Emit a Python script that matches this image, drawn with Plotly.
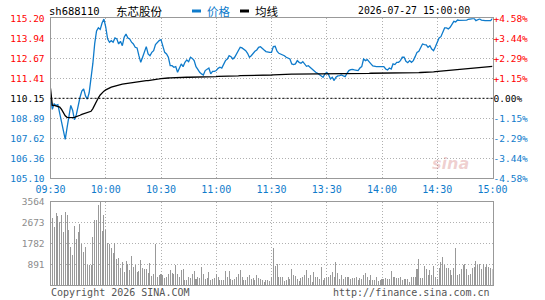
import plotly.graph_objects as go

# ---------------- DATA ----------------
SYMBOL = "sh688110"
NAME = "东芯股份"
DATE_TEXT = "2026-07-27 15:00:00"
PREV_CLOSE = 110.15

TIME_LABELS = ["09:30", "10:00", "10:30", "11:00", "11:30", "13:30", "14:00", "14:30", "15:00"]
PRICE_TICK_LABELS = ["105.10", "106.36", "107.62", "108.89", "110.15", "111.41", "112.67", "113.94", "115.20"]
PCT_TICK_LABELS = ["-4.58%", "-3.44%", "-2.29%", "-1.15%", "0.00%", "+1.15%", "+2.29%", "+3.44%", "+4.58%"]
VOL_TICK_LABELS = ["891", "1782", "2673", "3564"]

PRICE = [
    110.25, 109.45, 109.80, 109.70, 109.75, 109.20, 108.60, 108.10, 107.56, 108.30,
    108.90, 109.70, 109.40, 108.80, 109.10, 109.70, 110.20, 110.60, 110.75, 110.30,
    110.10, 110.50, 111.40, 112.35, 113.60, 114.40, 114.60, 114.50, 114.90, 115.15,
    114.65, 113.90, 113.69, 113.79, 113.69, 113.96, 113.90, 113.58, 113.75, 113.47,
    114.00, 114.21, 113.96, 113.90, 113.69, 113.58, 113.37, 113.33, 112.84, 112.42,
    112.74, 113.12, 113.41, 112.95, 112.84, 113.05, 113.16, 113.54, 113.69, 113.79,
    113.85, 113.37, 113.05, 112.95, 112.74, 112.21, 112.21, 112.11, 112.15, 111.79,
    112.06, 112.32, 112.15, 112.42, 112.57, 112.46, 112.74, 112.67, 112.53, 112.15,
    111.98, 111.79, 111.69, 111.62, 111.90, 111.98, 112.06, 111.69, 111.85, 111.85,
    111.90, 112.04, 112.11, 112.06, 112.36, 112.53, 112.63, 112.84, 112.78, 112.63,
    112.74, 112.95, 113.20, 113.37, 113.33, 113.24, 113.16, 112.99, 112.74, 112.84,
    112.99, 113.12, 113.20, 113.37, 113.41, 113.28, 113.20, 113.10, 113.05, 113.05,
    113.05, 113.41, 113.43, 113.12, 112.99, 112.95, 112.91, 112.84, 112.74, 112.67,
    112.63, 112.32, 112.28, 112.32, 112.53, 112.42, 112.36, 112.46, 112.28, 112.17,
    112.21, 112.11, 112.00, 111.85, 111.79, 111.73, 111.64, 111.58, 111.48, 111.69,
    111.79, 111.64, 111.37, 111.48, 111.27, 111.48, 111.56, 111.58, 111.62, 111.56,
    111.52, 111.73, 111.90, 111.96, 111.98, 111.94, 111.90, 111.90, 112.06, 112.15,
    112.63, 112.53, 112.59, 112.42, 112.32, 112.19, 112.15, 112.15, 112.15, 112.15,
    112.11, 112.15, 112.00, 111.94, 112.06, 112.00, 112.32, 112.28, 112.42, 112.42,
    112.53, 112.74, 112.74, 112.49, 112.40, 112.53, 112.42, 112.53, 112.78, 113.05,
    113.12, 113.37, 113.58, 113.54, 113.52, 113.37, 113.47, 113.26, 113.16, 113.41,
    113.69, 113.96, 114.04, 114.32, 114.59, 114.59, 114.53, 114.63, 114.84, 115.01,
    114.97, 115.09, 115.07, 115.07, 115.05, 115.09, 115.09, 115.14, 115.16, 115.16,
    115.20, 115.05, 115.09, 115.16, 115.09, 115.05, 115.05, 115.05, 115.05, 115.05, 115.20,
]

AVG = [
    110.78, 109.70, 109.70, 109.68, 109.66, 109.60, 109.45, 109.25, 109.05, 108.95,
    108.93, 108.93, 108.93, 108.95, 108.98, 109.03, 109.08, 109.13, 109.17, 109.20,
    109.22, 109.25, 109.33, 109.50, 109.75, 109.98, 110.18, 110.36, 110.50, 110.60,
    110.68, 110.75, 110.80, 110.85, 110.89, 110.93, 110.96, 110.99, 111.02, 111.04,
    111.06, 111.08, 111.10, 111.12, 111.14, 111.16, 111.18, 111.19, 111.20, 111.21,
    111.23, 111.24, 111.26, 111.27, 111.28, 111.30, 111.31, 111.33, 111.35, 111.37,
    111.39, 111.41, 111.42, 111.43, 111.43, 111.44, 111.45, 111.46, 111.47, 111.47,
    111.48, 111.48, 111.48, 111.48, 111.48, 111.48, 111.48, 111.48, 111.48, 111.48,
    111.48, 111.48, 111.48, 111.48, 111.48, 111.48, 111.49, 111.50, 111.51, 111.52,
    111.52, 111.53, 111.53, 111.53, 111.54, 111.54, 111.54, 111.54, 111.54, 111.55,
    111.55, 111.56, 111.57, 111.58, 111.58, 111.59, 111.59, 111.60, 111.61, 111.61,
    111.62, 111.62, 111.62, 111.62, 111.62, 111.62, 111.62, 111.62, 111.62, 111.62,
    111.62, 111.63, 111.64, 111.65, 111.66, 111.67, 111.67, 111.67, 111.67, 111.67,
    111.67, 111.68, 111.68, 111.68, 111.69, 111.69, 111.70, 111.70, 111.71, 111.71,
    111.72, 111.72, 111.72, 111.72, 111.72, 111.72, 111.72, 111.72, 111.71, 111.71,
    111.71, 111.70, 111.70, 111.69, 111.69, 111.68, 111.68, 111.68, 111.68, 111.68,
    111.68, 111.68, 111.68, 111.68, 111.68, 111.68, 111.68, 111.69, 111.70, 111.70,
    111.71, 111.72, 111.72, 111.72, 111.73, 111.73, 111.73, 111.73, 111.73, 111.73,
    111.73, 111.73, 111.73, 111.73, 111.73, 111.73, 111.73, 111.73, 111.73, 111.73,
    111.74, 111.74, 111.74, 111.74, 111.74, 111.74, 111.74, 111.74, 111.75, 111.76,
    111.77, 111.78, 111.78, 111.79, 111.79, 111.80, 111.80, 111.81, 111.82, 111.83,
    111.84, 111.85, 111.86, 111.87, 111.88, 111.89, 111.90, 111.91, 111.92, 111.94,
    111.95, 111.96, 111.98, 111.99, 112.00, 112.01, 112.02, 112.03, 112.04, 112.05,
    112.06, 112.07, 112.08, 112.09, 112.10, 112.11, 112.12, 112.13, 112.14, 112.15, 112.17,
]

VOLUME = [
    1550, 2870, 2480, 3080, 2940, 2700, 3010, 2290, 3140, 3010,
    2340, 1630, 1300, 2530, 1960, 2270, 2610, 1780, 1400, 1640,
    880, 880, 880, 2080, 2770, 2780, 3420, 3560, 2300, 3010,
    2360, 1810, 1760, 1570, 1360, 1790, 1130, 1170, 740, 1000,
    570, 1040, 900, 650, 1230, 770, 880, 560, 630, 1080,
    720, 680, 680, 530, 950, 400, 500, 1760, 370, 450,
    500, 430, 310, 360, 480, 660, 510, 470, 880, 470,
    370, 650, 710, 240, 240, 350, 300, 500, 600, 270,
    370, 310, 760, 500, 270, 330, 580, 220, 280, 330,
    500, 350, 230, 220, 240, 610, 360, 610, 250, 220,
    280, 350, 470, 640, 370, 220, 230, 350, 460, 260,
    300, 230, 460, 300, 260, 240, 140, 220, 230, 190,
    370, 1576, 820, 890, 370, 340, 370, 200, 230, 370,
    280, 700, 440, 400, 280, 200, 330, 370, 440, 650,
    300, 450, 160, 580, 370, 370, 260, 770, 230, 300,
    370, 370, 440, 580, 370, 990, 510, 270, 440, 280,
    340, 370, 340, 270, 330, 300, 370, 230, 330, 270,
    440, 540, 370, 230, 440, 230, 230, 370, 200, 230,
    260, 270, 310, 270, 260, 620, 340, 340, 310, 330,
    370, 230, 280, 260, 260, 160, 370, 370, 370, 680,
    1120, 330, 300, 820, 680, 440, 650, 440, 820, 340,
    260, 720, 1010, 1190, 870, 720, 740, 650, 440, 720,
    1590, 440, 470, 700, 880, 890, 680, 440, 480, 720,
    800, 1040, 850, 890, 710, 900, 780, 890, 770, 720, 710,
]

# ---------------- STYLE ----------------
W, H = 545, 300
BLUE = "#0f7bcb"
RED = "#ff0000"
GRID = "#b0b0b0"
FRAME = "#999999"
CLEAR = "rgba(0,0,0,0)"
MONO = "DejaVu Sans Mono"
CJK = "Noto Sans CJK SC"


def px(x):
    return x / W


def py(y):
    return 1 - y / H


minutes = list(range(len(PRICE)))
n_int = len(TIME_LABELS) - 1
x_tickvals = [i * 240 / n_int for i in range(len(TIME_LABELS))]

span = max(max(PRICE) - PREV_CLOSE, PREV_CLOSE - min(PRICE))
n_half = (len(PRICE_TICK_LABELS) - 1) // 2
price_tickvals = [PREV_CLOSE + span * (k - n_half) / n_half for k in range(len(PRICE_TICK_LABELS))]
pct_span = span / PREV_CLOSE * 100
pct_tickvals = [pct_span * (k - n_half) / n_half for k in range(len(PCT_TICK_LABELS))]
pct_series = [(p - PREV_CLOSE) / PREV_CLOSE * 100 for p in PRICE]


def col(k):
    return RED if k > n_half else ("#000000" if k == n_half else BLUE)


price_ticktext = [f'<span style="color:{col(k)}">{t}</span>' for k, t in enumerate(PRICE_TICK_LABELS)]
pct_ticktext = [f'<span style="color:{col(k)}">{t}</span>' for k, t in enumerate(PCT_TICK_LABELS)]

vol_tickvals = [float(v) for v in VOL_TICK_LABELS]
vol_top = vol_tickvals[-1]

fig = go.Figure()
fig.add_trace(go.Scatter(x=minutes, y=PRICE, mode="lines", line=dict(color=BLUE, width=1.3),
                         xaxis="x", yaxis="y", showlegend=False, hoverinfo="skip"))
fig.add_trace(go.Scatter(x=minutes, y=AVG, mode="lines", line=dict(color="#000000", width=1.3),
                         xaxis="x", yaxis="y", showlegend=False, hoverinfo="skip"))
fig.add_trace(go.Scatter(x=minutes, y=pct_series, mode="lines", line=dict(color=CLEAR, width=0),
                         xaxis="x", yaxis="y2", showlegend=False, hoverinfo="skip"))
fig.add_trace(go.Bar(x=minutes, y=VOLUME, width=0.55, marker=dict(color="#999999", line=dict(width=0)),
                     xaxis="x2", yaxis="y3", showlegend=False, hoverinfo="skip"))

x_dom = [px(50.5), px(492.5)]
price_dom = [py(178.3), py(18.3)]
vol_dom = [py(285.3), py(201.7)]

common_x = dict(range=[0, 240], tickvals=x_tickvals, showgrid=True, gridcolor=GRID, griddash="1px,2px",
                gridwidth=1, showline=True, mirror=True, linecolor=FRAME, linewidth=1, zeroline=False,
                ticks="outside", ticklen=2, tickcolor=CLEAR, fixedrange=True, automargin=False)

fig.update_layout(
    width=W, height=H, margin=dict(l=0, r=0, t=0, b=0, autoexpand=False),
    paper_bgcolor="white", plot_bgcolor="white",
    font=dict(family=MONO, size=10, color="#000000"),
    bargap=0,
    xaxis=dict(domain=x_dom, anchor="y", ticktext=TIME_LABELS,
               tickfont=dict(family=MONO, size=10, color=BLUE), **common_x),
    yaxis=dict(domain=price_dom, anchor="x", range=[price_tickvals[0], price_tickvals[-1]],
               tickvals=price_tickvals, ticktext=price_ticktext, showgrid=True, gridcolor=GRID,
               griddash="1px,2px", showline=True, mirror=True, linecolor=FRAME, linewidth=1,
               zeroline=False, ticks="outside", ticklen=3, tickcolor=CLEAR,
               tickfont=dict(family=MONO, size=9.5), fixedrange=True, automargin=False),
    yaxis2=dict(overlaying="y", side="right", anchor="x", range=[-pct_span, pct_span],
                tickvals=pct_tickvals, ticktext=pct_ticktext, showgrid=False, zeroline=False,
                showline=False, ticks="", tickfont=dict(family=MONO, size=9.5), fixedrange=True,
                automargin=False),
    xaxis2=dict(domain=x_dom, anchor="y3", showticklabels=False, **common_x),
    yaxis3=dict(domain=vol_dom, anchor="x2", range=[0, vol_top], tickvals=vol_tickvals,
                ticktext=VOL_TICK_LABELS, showgrid=True, gridcolor=GRID, griddash="1px,2px",
                showline=True, mirror=True, linecolor=FRAME, linewidth=1, zeroline=False,
                ticks="outside", ticklen=3, tickcolor=CLEAR,
                tickfont=dict(family=MONO, size=9.5, color="#8c8c8c"), fixedrange=True,
                automargin=False),
)

# previous close reference line (dashed black)
fig.add_shape(type="line", xref="x domain", yref="y", x0=0, x1=1, y0=PREV_CLOSE, y1=PREV_CLOSE,
              line=dict(color="#000000", width=1, dash="2px,2px"))

# header legend marks
fig.add_shape(type="rect", xref="paper", yref="paper", x0=px(192), x1=px(201), y0=py(12.5), y1=py(9.5),
              fillcolor=BLUE, line=dict(width=0))
fig.add_shape(type="rect", xref="paper", yref="paper", x0=px(240), x1=px(249), y0=py(12.5), y1=py(9.5),
              fillcolor="#000000", line=dict(width=0))

ann = []


def text(x, y, s, anchor="left", size=10, color="#000000", family=MONO):
    ann.append(dict(x=px(x), y=py(y), xref="paper", yref="paper", text=s, showarrow=False,
                    xanchor=anchor, yanchor="middle", font=dict(family=family, size=size, color=color)))


text(47, 11, SYMBOL, size=10.5)
text(114, 11, NAME, size=11.5, family=CJK)
text(205, 11, "价格", size=11.5, color=BLUE, family=CJK)
text(253, 11, "均线", size=11.5, family=CJK)
text(472, 11, DATE_TEXT, anchor="right", size=9.8)
text(49, 292, "Copyright 2026 SINA.COM", size=10, color="#555555")
text(492, 292, "http://finance.sina.com.cn", anchor="right", size=10, color="#555555")
ann.append(dict(x=px(471), y=py(163), xref="paper", yref="paper", text="<b><i>sina</i></b>",
                showarrow=False, font=dict(family="DejaVu Sans", size=16, color="rgba(200,90,90,0.28)")))
fig.update_layout(annotations=ann)

fig.write_html("out.html", config={"displayModeBar": False, "staticPlot": True})
